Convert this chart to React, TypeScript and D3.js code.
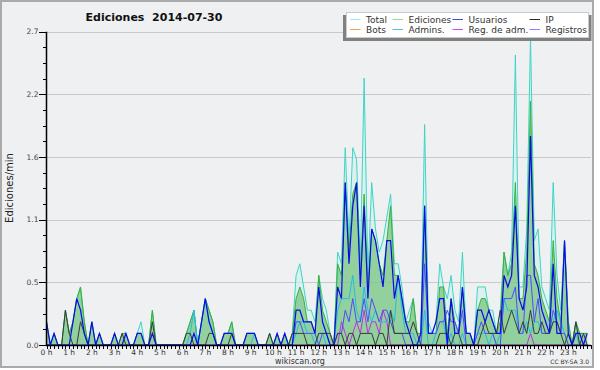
import React, { useRef, useEffect } from 'react';
import * as d3 from 'd3';

// Ediciones/min, one value per 10 minutes (144 buckets, 0:00 .. 23:50)
const total = [
  0.2, 0, 0.1, 0, 0, 0.3,
  0.1, 0.2, 0.4, 0.5, 0.2, 0,
  0.2, 0, 0.1, 0, 0, 0,
  0.1, 0, 0.1, 0.1, 0, 0,
  0.1, 0.2, 0, 0, 0.3, 0,
  0, 0, 0, 0, 0, 0,
  0, 0.1, 0.2, 0.3, 0, 0.2,
  0.4, 0.3, 0.2, 0, 0, 0.1,
  0.1, 0.2, 0, 0, 0, 0.1,
  0.1, 0.1, 0, 0, 0, 0.1,
  0, 0.1, 0, 0.1, 0, 0.1,
  0.6, 0.7, 0.5, 0.3, 0.3, 0.2,
  0.6, 0.4, 0.3, 0.1, 0, 0.8,
  0.7, 1.7, 0.9, 1.7, 1.6, 0.7,
  2.3, 0.6, 1.4, 1.0, 0.8, 0.9,
  1.1, 1.3, 0.7, 0.7, 0.5, 0.2,
  0.3, 0.4, 0.1, 0.1, 1.9, 0.2,
  0.1, 0.2, 0.7, 0.5, 0.4, 0.6,
  0.3, 0.2, 0.8, 0.1, 0.1, 0,
  0.5, 0.5, 0.5, 0.3, 0.3, 0.1,
  0.3, 0.8, 0.6, 0.8, 2.5, 0.5,
  0.5, 1.0, 2.65, 0.9, 1.0, 0.5,
  0.4, 0.3, 1.4, 0.6, 0.3, 0.9,
  0.2, 0, 0.2, 0.1, 0.1, 0.1,
];

const edits = [
  0.2, 0, 0.1, 0, 0, 0.3,
  0.1, 0.2, 0.4, 0.5, 0.2, 0,
  0.2, 0, 0.1, 0, 0, 0,
  0.1, 0, 0.1, 0.1, 0, 0,
  0.1, 0.1, 0, 0, 0.3, 0,
  0, 0, 0, 0, 0, 0,
  0, 0.1, 0.2, 0.3, 0, 0.2,
  0.4, 0.3, 0.2, 0, 0, 0.1,
  0.1, 0.2, 0, 0, 0, 0.1,
  0.1, 0.1, 0, 0, 0, 0.1,
  0, 0.1, 0, 0.1, 0, 0.1,
  0.4, 0.5, 0.4, 0.2, 0.2, 0.1,
  0.6, 0.3, 0.2, 0.1, 0, 0.7,
  0.6, 1.4, 0.8, 1.3, 1.4, 0.6,
  1.3, 0.5, 1.0, 0.9, 0.7, 0.6,
  0.9, 1.2, 0.6, 0.6, 0.4, 0.2,
  0.2, 0.4, 0.1, 0.1, 1.2, 0.1,
  0.1, 0.1, 0.5, 0.5, 0.1, 0.4,
  0.2, 0.1, 0.5, 0.1, 0.1, 0,
  0.3, 0.4, 0.4, 0.3, 0.2, 0.1,
  0.2, 0.8, 0.6, 0.7, 1.4, 0.4,
  0.4, 0.8, 2.1, 0.7, 0.6, 0.4,
  0.3, 0.2, 0.9, 0.4, 0.2, 0.9,
  0.2, 0, 0.2, 0.1, 0.1, 0.1,
];

const users = [
  0.2, 0, 0.1, 0, 0, 0,
  0, 0.2, 0.4, 0.3, 0.1, 0,
  0.2, 0, 0.1, 0, 0, 0,
  0.1, 0, 0, 0.1, 0, 0,
  0.1, 0.1, 0, 0, 0.1, 0,
  0, 0, 0, 0, 0, 0,
  0, 0, 0, 0.1, 0, 0.2,
  0.4, 0.2, 0.1, 0, 0, 0.1,
  0.1, 0.1, 0, 0, 0, 0.1,
  0.1, 0.1, 0, 0, 0, 0,
  0, 0.1, 0, 0.1, 0, 0,
  0.3, 0.3, 0.2, 0.2, 0.2, 0.1,
  0.5, 0.2, 0.1, 0, 0, 0.5,
  0.4, 1.4, 0.7, 1.2, 1.4, 0.5,
  1.2, 0.4, 1.0, 0.9, 0.7, 0.5,
  0.9, 0.9, 0.4, 0.6, 0.4, 0.2,
  0.1, 0, 0, 0.1, 1.2, 0.1,
  0.1, 0.2, 0.4, 0.4, 0, 0.4,
  0.1, 0.1, 0.5, 0.1, 0.1, 0,
  0.3, 0.3, 0.2, 0.3, 0.2, 0.1,
  0.1, 0.6, 0.5, 0.6, 1.2, 0.4,
  0.3, 0.5, 1.8, 0.6, 0.5, 0.3,
  0.2, 0.1, 0.7, 0.1, 0.1, 0.9,
  0.1, 0, 0.1, 0.1, 0, 0.1,
];

const ip = [
  0, 0, 0, 0, 0, 0.3,
  0.1, 0, 0, 0.2, 0.1, 0,
  0, 0, 0, 0, 0, 0,
  0, 0, 0.1, 0, 0, 0,
  0, 0, 0, 0, 0.2, 0,
  0, 0, 0, 0, 0, 0,
  0, 0.1, 0.1, 0, 0, 0,
  0, 0.1, 0.1, 0, 0, 0,
  0, 0.1, 0, 0, 0, 0,
  0, 0, 0, 0, 0, 0.1,
  0, 0, 0, 0, 0, 0.1,
  0.1, 0.1, 0.1, 0, 0, 0,
  0.1, 0.1, 0.1, 0.1, 0, 0.1,
  0.1, 0, 0.1, 0.1, 0, 0.1,
  0.1, 0.1, 0.1, 0, 0.1, 0.1,
  0, 0.3, 0.1, 0.1, 0.1, 0.1,
  0.1, 0.2, 0.1, 0, 0, 0,
  0, 0, 0.1, 0.1, 0.1, 0,
  0.1, 0.1, 0, 0, 0, 0,
  0, 0.1, 0.2, 0.1, 0.1, 0.1,
  0.3, 0.1, 0.2, 0.3, 0.2, 0.1,
  0.2, 0.1, 0.3, 0.1, 0.1, 0.2,
  0.1, 0.1, 0.2, 0.2, 0.1, 0,
  0.1, 0, 0.2, 0, 0.1, 0,
];

const admins = [
  0, 0, 0, 0, 0, 0,
  0, 0, 0, 0, 0, 0,
  0, 0, 0, 0, 0, 0,
  0, 0, 0, 0, 0, 0,
  0, 0, 0, 0, 0, 0,
  0, 0, 0, 0, 0, 0,
  0, 0, 0.1, 0.3, 0, 0.2,
  0.4, 0.2, 0.1, 0, 0, 0,
  0, 0, 0, 0, 0, 0,
  0, 0.1, 0, 0, 0, 0,
  0, 0, 0, 0, 0, 0,
  0.1, 0.2, 0.2, 0.1, 0.1, 0,
  0.1, 0.1, 0, 0, 0, 0.3,
  0.4, 0.4, 0.4, 0.6, 0.3, 0.2,
  0.5, 0.3, 0.2, 0.3, 0.2, 0.2,
  0.2, 0.3, 0.2, 0.6, 0.3, 0.1,
  0.1, 0.1, 0, 0, 0.3, 0,
  0, 0.1, 0.2, 0.2, 0, 0.1,
  0, 0, 0.1, 0, 0, 0,
  0.1, 0.1, 0.1, 0, 0.1, 0,
  0.1, 0.4, 0.3, 0.3, 0.3, 0.1,
  0.1, 0.2, 0.1, 0.2, 0.2, 0.1,
  0.1, 0.1, 0.2, 0.3, 0.2, 0.1,
  0, 0, 0.1, 0, 0, 0,
];

const adminLogs = [
  0, 0, 0, 0, 0, 0,
  0, 0, 0, 0, 0, 0,
  0, 0, 0, 0, 0, 0,
  0, 0, 0, 0, 0, 0,
  0, 0, 0, 0, 0, 0,
  0, 0, 0, 0, 0, 0,
  0, 0, 0, 0, 0, 0,
  0, 0, 0, 0, 0, 0,
  0, 0, 0, 0, 0, 0,
  0, 0, 0, 0, 0, 0,
  0, 0, 0, 0, 0, 0,
  0, 0, 0, 0, 0, 0,
  0, 0, 0, 0, 0, 0,
  0.2, 0.1, 0, 0.1, 0.2, 0.1,
  0.3, 0.1, 0.2, 0.2, 0.1, 0.3,
  0.2, 0, 0, 0, 0, 0,
  0, 0, 0, 0, 0, 0,
  0, 0, 0, 0, 0, 0,
  0, 0, 0, 0, 0, 0,
  0, 0, 0, 0, 0, 0,
  0, 0, 0, 0, 0, 0,
  0, 0, 0.1, 0, 0, 0,
  0, 0, 0, 0, 0, 0,
  0, 0, 0, 0, 0, 0,
];

const logs = [
  0, 0, 0, 0, 0, 0,
  0, 0, 0, 0, 0, 0,
  0, 0, 0, 0, 0, 0,
  0, 0, 0, 0, 0, 0,
  0, 0, 0, 0, 0, 0,
  0, 0, 0, 0, 0, 0,
  0, 0, 0, 0, 0, 0,
  0, 0, 0, 0, 0, 0,
  0, 0, 0, 0, 0, 0,
  0, 0, 0, 0, 0, 0,
  0, 0, 0, 0, 0, 0,
  0.2, 0.2, 0.1, 0.1, 0.1, 0.1,
  0, 0.1, 0.1, 0, 0, 0.1,
  0.1, 0.3, 0.2, 0.4, 0.2, 0.2,
  0.4, 0.2, 0.4, 0.3, 0.2, 0.3,
  0.3, 0.2, 0.1, 0.1, 0.1, 0,
  0, 0, 0, 0, 0.7, 0.1,
  0.1, 0.1, 0.2, 0.2, 0.3, 0.2,
  0.2, 0.1, 0.3, 0, 0, 0,
  0.1, 0.2, 0.1, 0.1, 0.1, 0,
  0, 0.4, 0.4, 0.4, 0.5, 0.1,
  0.1, 0.6, 0.6, 0.2, 0.4, 0.1,
  0.1, 0.1, 0.3, 0.2, 0.1, 0.1,
  0, 0, 0, 0, 0, 0,
];

const hourLabels = [
  '0 h', '1 h', '2 h', '3 h', '4 h', '5 h', '6 h', '7 h', '8 h', '9 h', '10 h', '11 h',
  '12 h', '13 h', '14 h', '15 h', '16 h', '17 h', '18 h', '19 h', '20 h', '21 h', '22 h', '23 h',
];
const yTicks = [0, 0.54, 1.08, 1.62, 2.16, 2.7];
const legendNames = ['Total', 'Ediciones', 'Usuarios', 'IP', 'Bots', 'Admins.', 'Reg. de adm.', 'Registros'];

const legendColors = ['#a6e9e1', '#9bd69b', '#4646dc', '#2a2a2a', '#f5a04a', '#4cc7e3', '#d050e0', '#8585ff'];

const FONT = 'DejaVu Sans, Verdana, sans-serif';

const App = () => {
  const svgRef = useRef<SVGSVGElement | null>(null);

  useEffect(() => {
    const width = 600;
    const height = 370;
    const n = total.length;

    const svg = d3.select(svgRef.current).attr('width', width).attr('height', height);
    svg.selectAll('*').remove();

    const x = d3.scaleLinear().domain([0, n]).range([46.5, 591]);
    const y = d3.scaleLinear().domain([0, 2.7]).range([345, 31.7]);

    // frame
    svg.append('rect').attr('width', width).attr('height', height).attr('fill', '#ffffff');
    svg.append('rect')
      .attr('x', 1).attr('y', 1).attr('width', 592).attr('height', 366)
      .attr('fill', '#eff0f2').attr('stroke', '#aaaaaa').attr('stroke-width', 2);

    // grid
    svg.append('g').selectAll('line')
      .data(yTicks.slice(1))
      .enter().append('line')
      .attr('x1', x(0)).attr('x2', x(n))
      .attr('y1', d => Math.round(y(d)) + 0.5).attr('y2', d => Math.round(y(d)) + 0.5)
      .attr('stroke', '#c9c9c9');

    const area = d3.area<number>().x((d, i) => x(i)).y0(y(0)).y1(d => y(d));
    const line = d3.line<number>().x((d, i) => x(i)).y(d => y(d));

    // total
    svg.append('path').attr('d', area(total)).attr('fill', '#cdf2ec').attr('opacity', 0.6);
    svg.append('path').attr('d', line(total)).attr('fill', 'none').attr('stroke', '#3ed5c6').attr('stroke-width', 1);

    // ediciones
    svg.append('path').attr('d', area(edits)).attr('fill', '#3aa83a').attr('opacity', 0.45);
    svg.append('path').attr('d', line(edits)).attr('fill', 'none').attr('stroke', '#3cb03c').attr('stroke-width', 1);

    const lines: [number[], string, number][] = [
      [adminLogs, '#c22ee0', 1],
      [admins, '#1fbfe6', 1],
      [logs, '#4c4cff', 1],
      [ip, '#3a3a3a', 1],
      [users, '#0a0aea', 1.2],
    ];
    lines.forEach(([data, color, w]) => {
      svg.append('path').attr('d', line(data)).attr('fill', 'none')
        .attr('stroke', color).attr('stroke-width', w);
    });

    // y axis
    const yAxis = svg.append('g');
    yAxis.append('line')
      .attr('x1', 46.5).attr('x2', 46.5).attr('y1', y(2.7)).attr('y2', y(0))
      .attr('stroke', '#000').attr('stroke-width', 1.5);
    const minor: number[] = [];
    for (let k = 0; k < yTicks.length - 1; k++) {
      const step = (yTicks[k + 1] - yTicks[k]) / 4;
      for (let j = 1; j < 4; j++) minor.push(yTicks[k] + j * step);
    }
    yAxis.selectAll('.minor').data(minor).enter().append('line')
      .attr('x1', 43).attr('x2', 46.5)
      .attr('y1', d => Math.round(y(d)) + 0.5).attr('y2', d => Math.round(y(d)) + 0.5)
      .attr('stroke', '#000');
    yAxis.selectAll('.major').data(yTicks).enter().append('line')
      .attr('x1', 39).attr('x2', 46.5)
      .attr('y1', d => Math.round(y(d)) + 0.5).attr('y2', d => Math.round(y(d)) + 0.5)
      .attr('stroke', '#000');
    yAxis.selectAll('text').data(yTicks).enter().append('text')
      .attr('x', 38.5).attr('y', d => y(d) + 2.5)
      .attr('text-anchor', 'end')
      .attr('font-family', FONT).attr('font-size', 7.5).attr('fill', '#444')
      .text(d => d.toFixed(1));

    // x axis
    const xAxis = svg.append('g');
    xAxis.selectAll('line.tick').data(d3.range(n + 1)).enter().append('line')
      .attr('x1', d => Math.round(x(d)) + 0.5).attr('x2', d => Math.round(x(d)) + 0.5)
      .attr('y1', 345).attr('y2', 349)
      .attr('stroke', '#000');
    xAxis.append('line')
      .attr('x1', 46).attr('x2', 591).attr('y1', 345.5).attr('y2', 345.5)
      .attr('stroke', '#000').attr('stroke-width', 1.5);
    xAxis.selectAll('text').data(hourLabels).enter().append('text')
      .attr('x', (d, i) => x(i * 6))
      .attr('y', 355)
      .attr('text-anchor', 'middle')
      .attr('font-family', FONT).attr('font-size', 7.5).attr('fill', '#333')
      .text(d => d);

    // texts
    svg.append('text')
      .attr('x', 154).attr('y', 20.5).attr('text-anchor', 'middle')
      .style('white-space', 'pre')
      .attr('font-family', FONT).attr('font-weight', 'bold').attr('font-size', 11).attr('fill', '#111')
      .text('Ediciones  2014-07-30');
    svg.append('text')
      .attr('transform', 'translate(13,188) rotate(-90)').attr('text-anchor', 'middle')
      .attr('font-family', FONT).attr('font-size', 10).attr('fill', '#222')
      .text('Ediciones/min');
    svg.append('text')
      .attr('x', 300).attr('y', 363.5).attr('text-anchor', 'middle')
      .attr('font-family', FONT).attr('font-size', 8).attr('fill', '#333')
      .text('wikiscan.org');
    svg.append('text')
      .attr('x', 589).attr('y', 363.5).attr('text-anchor', 'end')
      .attr('font-family', FONT).attr('font-size', 6).attr('fill', '#333')
      .text('CC BY-SA 3.0');

    // legend
    const lg = svg.append('g');
    lg.append('rect').attr('x', 343).attr('y', 15).attr('width', 248.5).attr('height', 26).attr('fill', '#808080');
    lg.append('rect').attr('x', 346.5).attr('y', 12.5).attr('width', 242).attr('height', 25)
      .attr('fill', '#ffffff').attr('stroke', '#cccccc');
    const colX = [350, 392.5, 452.5, 529.5];
    const rowY = [19, 29];
    legendNames.forEach((name, i) => {
      const cx = colX[i % 4];
      const cy = rowY[Math.floor(i / 4)];
      lg.append('line').attr('x1', cx).attr('x2', cx + 10.5).attr('y1', cy + 0.5).attr('y2', cy + 0.5)
        .attr('stroke', legendColors[i]);
      lg.append('text').attr('x', cx + 16).attr('y', cy + 3.5)
        .attr('font-family', FONT).attr('font-size', 9).attr('fill', '#333')
        .text(name);
    });

    return () => {
      svg.selectAll('*').remove();
    };
  }, []);

  return <svg ref={svgRef} style={{ position: 'absolute', left: 0, top: 0 }}></svg>;
};

export default App;
